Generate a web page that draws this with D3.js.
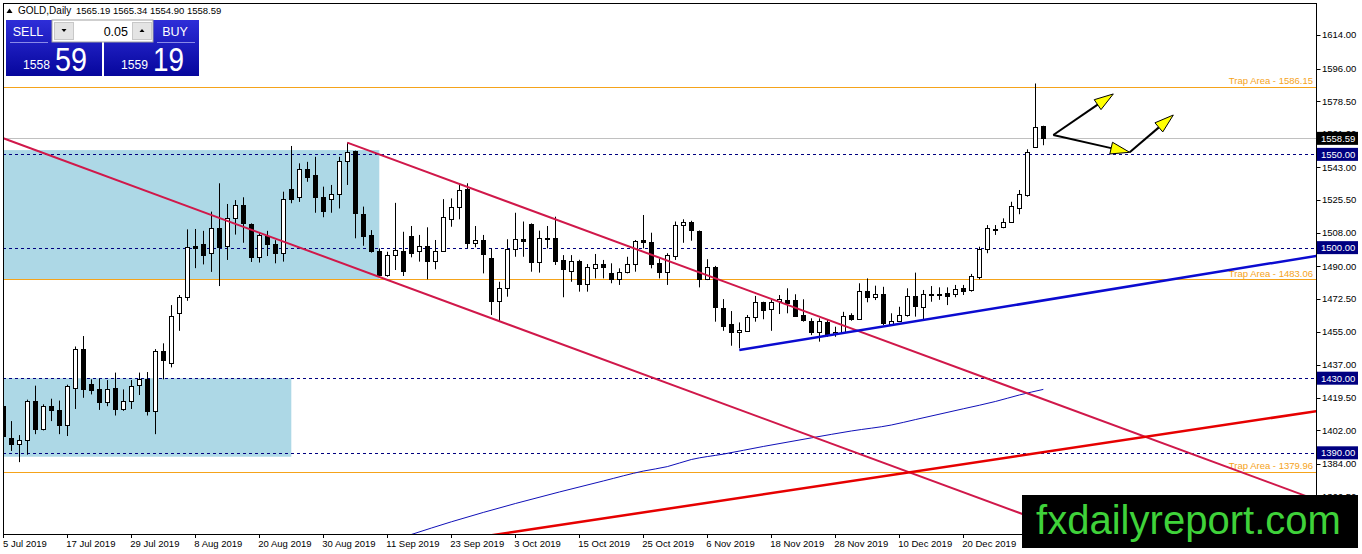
<!DOCTYPE html>
<html>
<head>
<meta charset="utf-8">
<script src="https://cdn.jsdelivr.net/npm/d3@7"></script>
<style>
  body { margin: 0; background: #fff; overflow: hidden; }
  svg { display: block; }
  text { font-family: "Liberation Sans", Arial, sans-serif; }
</style>
</head>
<body>
<div class="canva"></div>
<script>
// Daily GOLD candles, 5 Jul 2019 .. 7 Jan 2020 (one entry per bar)
const opens = [1415,1398,1394.5,1397,1418,1403,1415,1413,1405,1425,1445.5,1427,1424,1417,1425,1413.6,1418,1426.2,1429.7,1412.2,
  1444.4,1438.3,1464.8,1473.7,1501,1502,1497,1510.4,1501,1515.7,1522.7,1512.7,1495.1,1506,1501.8,1497.3,1531.4,1527,1542,1539,
  1527,1526,1528.7,1546.6,1551.8,1518,1506.8,1498.2,1485.3,1496,1498.2,1506.2,1498.2,1500.9,1493,1498.4,1515.2,1521.6,1531.4,1502.6,
  1504.1,1494.2,1471.5,1478.5,1499.1,1504.5,1512.7,1492.5,1505,1505,1493.4,1487.3,1493,1480.3,1489.2,1491,1486.2,1483.2,1487.1,1491,
  1503.9,1503,1491.6,1487.1,1495.7,1512.1,1513.6,1508.9,1483.2,1489.8,1467.5,1459,1454.6,1455.3,1462.6,1470.8,1467.1,1471.5,1471.9,1471.9,
  1463.7,1460.6,1454.6,1460.3,1453.7,1454.9,1463.9,1461.6,1476.7,1473.7,1475,1458.9,1460.8,1463.7,1473.9,1468,1475,1475.3,1475.5,1475,
  1478.3,1477.4,1484.4,1499.3,1509.8,1510.9,1513.9,1521.1,1528.2,1554.1,1565.19];
const highs = [1424,1407,1399.5,1418.5,1426,1416,1419,1418,1426.5,1447,1452.6,1429.4,1429.7,1429,1433,1424,1429,1433,1433.3,1445.6,
  1448.7,1469.2,1474.6,1509.8,1510,1509,1519.3,1534.5,1523.4,1525.5,1527,1513,1508.2,1509,1504,1530,1554.5,1545.2,1546,1548.7,
  1532.7,1533.6,1548.7,1556.3,1552,1522,1509.4,1499.6,1497.8,1524,1508.5,1511.6,1506.8,1510.9,1504.1,1526,1526.4,1534.5,1534.5,1511.6,
  1506.8,1499.6,1481.7,1504.5,1518.7,1514,1513,1509.1,1511.6,1516.6,1496,1496,1493.5,1491.2,1496.6,1493.4,1491.6,1488.9,1495.1,1504.1,
  1517.5,1508,1494.2,1497,1514,1515.2,1514.4,1509.2,1493.8,1490.2,1472.4,1466,1459.9,1463.9,1474.1,1471,1471.9,1474.6,1478.2,1475,
  1472.3,1462.1,1462.1,1461.2,1457.6,1465.6,1464.8,1480.9,1483.5,1479.6,1479,1464.8,1468.3,1478.2,1486.6,1477.3,1479.4,1478.7,1478.7,1480,
  1480,1485.9,1500.5,1512.1,1512.1,1515.7,1524.6,1530.9,1552.7,1588,1565.34];
const lows = [1386,1391,1385,1389,1400,1402,1407,1400,1399,1413.5,1419.5,1421.3,1413,1415,1410,1412.5,1413.5,1421,1410,1400,
  1429.4,1435.8,1455.4,1471.5,1489,1491,1487,1479.4,1493.4,1507,1502.6,1492.3,1492,1495.5,1491.6,1492.5,1523.8,1524.5,1535.3,1518.7,
  1516.3,1518.7,1521,1533.6,1505,1501,1497.3,1484.4,1484.4,1488,1484.8,1494.8,1492.5,1483,1488.4,1497.8,1511.2,1515.2,1499.6,1500.2,
  1486.2,1463.9,1460.3,1473.7,1495.1,1495.1,1487.1,1486.6,1499.6,1490.7,1473.4,1481.7,1476.4,1476.4,1483.5,1483.5,1480.9,1480,1486.2,1487.1,
  1499.6,1488.9,1483.5,1480,1493.4,1502.6,1503.7,1478.7,1482.6,1460.3,1455.4,1447.4,1446,1454.9,1460.3,1461.6,1455.4,1464.4,1464.8,1463,
  1460.3,1453.1,1449.6,1452.2,1452.2,1454,1460.8,1461.2,1470.7,1471.9,1458.5,1458.5,1460.3,1463,1463,1461.6,1471,1472,1469.2,1473.4,
  1474.6,1476.4,1483,1497,1506.8,1510.4,1513.9,1517.9,1527.3,1554,1554.90];
const closes = [1399,1394.5,1396.8,1418,1403,1415,1413,1405,1426,1445.5,1424.3,1423.7,1417,1424.3,1413.6,1417.8,1426,1429.7,1412.2,1444.4,
  1440,1463.2,1473.7,1500.5,1500,1496,1510.4,1500.5,1515.7,1522.7,1513,1495.1,1506.6,1502,1497.3,1525.9,1526.2,1542,1538,1527,
  1519.8,1528.6,1546.6,1551.4,1518.4,1506,1498.2,1485.3,1496,1498.7,1487.6,1497.3,1500.9,1493,1498.2,1516.3,1521.6,1530.9,1502.6,1504.1,
  1496.4,1471.5,1478.5,1499.3,1504.5,1503.7,1492.5,1505,1505.3,1493,1488.4,1493,1480.3,1489.4,1491,1489.8,1483.2,1486.8,1491,1503.5,
  1503.2,1491.2,1487.1,1495.9,1512.1,1513.6,1509.3,1483.2,1489.8,1468,1458.1,1454.9,1455.8,1462.6,1470.7,1466.5,1470.7,1472.3,1470.5,1463.5,
  1461.2,1454.6,1460.6,1453.1,1454.9,1463.3,1461.6,1476.7,1473.7,1475,1459.4,1460.8,1463.7,1473.9,1468.7,1475,1475.4,1475,1474.2,1478,
  1476.9,1484.6,1499.4,1510.5,1510.2,1513.9,1522.3,1528.6,1551.4,1564.8,1558.59];

// time axis labels (bar index -> label)
const tickBars = [0,8,16,24,32,40,48,56,64,72,80,88,96,104,112,120];
const tickLabels = ["5 Jul 2019","17 Jul 2019","29 Jul 2019","8 Aug 2019","20 Aug 2019","30 Aug 2019","11 Sep 2019","23 Sep 2019",
  "3 Oct 2019","15 Oct 2019","25 Oct 2019","6 Nov 2019","18 Nov 2019","28 Nov 2019","10 Dec 2019","20 Dec 2019"];

// price scale labels
const priceTicks = [1614,1596,1578.5,1561,1543,1525.5,1508,1490,1472.5,1455,1437,1419.5,1402,1384,1366.5];

// horizontal levels
const dashedLevels = [1550,1500,1430,1390];
const trapLevels = [1586.15,1483.06,1379.96];
const trapNames = ["Trap Area  - 1586.15","Trap Area - 1483.06","Trap Area - 1379.96"];
const bidPrice = 1558.59;

// moving average readings (bar, value)
const maBars = [50,51,56,64,75,80,83,86,90,95,101,106,111,114,120,124,127,130];
const maValues = [1344.8,1346.2,1353.0,1362.8,1374.9,1380.2,1382.6,1386.4,1389.3,1393.4,1398.0,1401.7,1404.9,1407.8,1413.6,1417.5,1421.0,1424.0];

// drawn objects, anchors as [bar, price]
const channelUpper = [[43,1556.3],[165,1363.4]];
const channelLower = [[-1,1560.2],[165,1297.7]];
const blueTrend = [[92,1445.1],[165,1496.2]];
const redTrend = [[55,1341.9],[165,1412.9]];
const boxUpper = [[-2,1552.3],[47,1483.06]];
const boxLower = [[-2,1430],[36,1387.9]];
const arrowStart = [131.25,1560.4];
const arrowMid = [140.8,1551.1];
const arrowTips = [[138.75,1582.4],[140.8,1551.1],[146.25,1571.1]];

const W = 1362, H = 554;
const plot = {left: 3, top: 3, right: 1316, bottom: 534};

const svg = d3.select('.canva').append('svg')
  .attr('width', W).attr('height', H);

const xs = d3.scaleLinear().domain([0, 164]).range([3.3, 3.3 + 164 * 8]);
const ys = d3.scaleLinear().domain([1384, 1614]).range([464, 35]);

svg.append('defs').append('clipPath').attr('id', 'plotclip')
  .append('rect').attr('x', plot.left).attr('y', plot.top)
  .attr('width', plot.right - plot.left).attr('height', plot.bottom - plot.top);

const g = svg.append('g').attr('clip-path', 'url(#plotclip)');

// background rectangles
[boxUpper, boxLower].forEach(b => {
  g.append('rect')
    .attr('x', xs(b[0][0])).attr('y', ys(b[0][1]))
    .attr('width', xs(b[1][0]) - xs(b[0][0]))
    .attr('height', ys(b[1][1]) - ys(b[0][1]))
    .attr('fill', '#add8e6');
});

// level lines
const crisp = v => Math.round(v) + 0.5;
g.selectAll('.dash').data(dashedLevels).enter().append('line')
  .attr('x1', plot.left).attr('x2', plot.right)
  .attr('y1', d => crisp(ys(d))).attr('y2', d => crisp(ys(d)))
  .attr('stroke', '#000080').attr('stroke-dasharray', '3,3');

g.selectAll('.trap').data(trapLevels).enter().append('line')
  .attr('x1', plot.left).attr('x2', plot.right)
  .attr('y1', d => crisp(ys(d))).attr('y2', d => crisp(ys(d)))
  .attr('stroke', '#f5a31a');

g.append('line')
  .attr('x1', plot.left).attr('x2', plot.right)
  .attr('y1', crisp(ys(bidPrice))).attr('y2', crisp(ys(bidPrice)))
  .attr('stroke', '#c0c0c0');

// trap labels
g.selectAll('.trapLbl').data(trapLevels).enter().append('text')
  .attr('x', 1313).attr('y', d => ys(d) - 2.5)
  .attr('text-anchor', 'end')
  .attr('font-size', '9.5px')
  .attr('fill', '#f5a31a')
  .text((d, i) => trapNames[i]);

// moving average
const maLine = d3.line().x(d => xs(d[0])).y(d => ys(d[1])).curve(d3.curveMonotoneX);
g.append('path')
  .attr('d', maLine(maBars.map((b, i) => [b, maValues[i]])))
  .attr('fill', 'none').attr('stroke', '#1010b8').attr('stroke-width', 1);

// candles
const candles = g.append('g');
opens.forEach((o, i) => {
  const cx = Math.round(xs(i)) + 0.5;
  const c = closes[i];
  const up = c >= o;
  candles.append('line')
    .attr('x1', cx).attr('x2', cx)
    .attr('y1', ys(highs[i])).attr('y2', ys(lows[i]))
    .attr('stroke', '#000');
  const top = Math.round(ys(Math.max(o, c))) + 0.5;
  const bot = Math.max(top + 1, Math.round(ys(Math.min(o, c))) + 0.5);
  candles.append('rect')
    .attr('x', cx - 2).attr('y', top)
    .attr('width', 4).attr('height', bot - top)
    .attr('fill', up ? '#fff' : '#000')
    .attr('stroke', '#000');
});

// trend lines
function seg(pts, color, w) {
  g.append('line')
    .attr('x1', xs(pts[0][0])).attr('y1', ys(pts[0][1]))
    .attr('x2', xs(pts[1][0])).attr('y2', ys(pts[1][1]))
    .attr('stroke', color).attr('stroke-width', w);
}
seg(channelLower, '#d0184a', 2);
seg(channelUpper, '#d0184a', 2);
seg(blueTrend, '#0b0bd0', 2.5);
seg(redTrend, '#e60000', 2.5);

// arrows
function arrow(from, to) {
  const x1 = xs(from[0]), y1 = ys(from[1]), x2 = xs(to[0]), y2 = ys(to[1]);
  const a = Math.atan2(y2 - y1, x2 - x1);
  const len = 19, hw = 6;
  const bx = x2 - len * Math.cos(a), by = y2 - len * Math.sin(a);
  g.append('line').attr('x1', x1).attr('y1', y1).attr('x2', bx).attr('y2', by)
    .attr('stroke', '#000').attr('stroke-width', 2);
  const pts = [[x2, y2],
    [bx + hw * Math.sin(a), by - hw * Math.cos(a)],
    [bx - hw * Math.sin(a), by + hw * Math.cos(a)]];
  g.append('polygon').attr('points', pts.map(p => p.join(',')).join(' '))
    .attr('fill', '#ffff00').attr('stroke', '#000').attr('stroke-width', 1);
}
arrow(arrowStart, arrowTips[0]);
arrow(arrowStart, arrowTips[1]);
arrow(arrowMid, arrowTips[2]);

// frame
svg.append('rect')
  .attr('x', plot.left + 0.5).attr('y', plot.top + 0.5)
  .attr('width', plot.right - plot.left).attr('height', plot.bottom - plot.top)
  .attr('fill', 'none').attr('stroke', '#000');

// price axis
const ax = svg.append('g');
ax.selectAll('.tk').data(priceTicks).enter().append('line')
  .attr('x1', plot.right + 0.5).attr('x2', plot.right + 4.5)
  .attr('y1', d => crisp(ys(d))).attr('y2', d => crisp(ys(d)))
  .attr('stroke', '#000');
ax.selectAll('.tl').data(priceTicks).enter().append('text')
  .attr('x', 1322).attr('y', d => ys(d)).attr('dy', '0.35em')
  .attr('font-size', '9.5px').attr('fill', '#000')
  .text(d => d.toFixed(2));

function axisBox(v, fill) {
  ax.append('rect').attr('x', 1317).attr('y', ys(v) - 6.5)
    .attr('width', 41).attr('height', 13).attr('fill', fill);
  ax.append('text').attr('x', 1321).attr('y', ys(v)).attr('dy', '0.35em')
    .attr('font-size', '9.5px').attr('fill', '#fff').text(v.toFixed(2));
}
dashedLevels.forEach(v => axisBox(v, '#000080'));
axisBox(bidPrice, '#000');

// time axis
ax.selectAll('.xt').data(tickBars).enter().append('line')
  .attr('x1', d => crisp(xs(d))).attr('x2', d => crisp(xs(d)))
  .attr('y1', plot.bottom).attr('y2', plot.bottom + 4)
  .attr('stroke', '#000');
ax.selectAll('.xl').data(tickBars).enter().append('text')
  .attr('x', d => Math.max(3, xs(d) - 1)).attr('y', 547)
  .attr('font-size', '9.5px').attr('fill', '#000')
  .text((d, i) => tickLabels[i]);

// header
svg.append('path').attr('d', 'M6.5,13 L12.5,13 L9.5,8.5 Z').attr('fill', '#000');
svg.append('text').attr('x', 18).attr('y', 14).attr('font-size', '10px').text('GOLD,Daily');
svg.append('text').attr('x', 76).attr('y', 14).attr('font-size', '9.5px')
  .text(`${opens[130].toFixed(2)} ${highs[130].toFixed(2)} ${lows[130].toFixed(2)} ${closes[130].toFixed(2)}`);

// one-click trading panel
const grad = svg.select('defs').append('linearGradient').attr('id', 'btn')
  .attr('x1', 0).attr('y1', 0).attr('x2', 0).attr('y2', 1);
grad.append('stop').attr('offset', 0).attr('stop-color', '#2e2ed8');
grad.append('stop').attr('offset', 1).attr('stop-color', '#06069c');

const panel = svg.append('g');
panel.append('rect').attr('x', 6).attr('y', 20).attr('width', 96).attr('height', 56).attr('fill', 'url(#btn)');
panel.append('rect').attr('x', 104).attr('y', 20).attr('width', 95).attr('height', 56).attr('fill', 'url(#btn)');
panel.append('rect').attr('x', 52).attr('y', 20).attr('width', 101).attr('height', 22).attr('fill', '#fff')
  .attr('stroke', '#a0a0a0').attr('stroke-width', 1);
panel.append('rect').attr('x', 54.5).attr('y', 22.5).attr('width', 19).attr('height', 17).attr('fill', '#e4e4e4')
  .attr('stroke', '#c8c8c8');
panel.append('rect').attr('x', 132.5).attr('y', 22.5).attr('width', 19).attr('height', 17).attr('fill', '#e4e4e4')
  .attr('stroke', '#c8c8c8');
panel.append('path').attr('d', 'M61.5,29 L66.5,29 L64,32 Z').attr('fill', '#000');
panel.append('path').attr('d', 'M139.5,32 L144.5,32 L142,29 Z').attr('fill', '#000');
panel.append('text').attr('x', 128).attr('y', 35.5).attr('text-anchor', 'end')
  .attr('font-size', '12.5px').attr('fill', '#000').text('0.05');
panel.append('text').attr('x', 28).attr('y', 36).attr('text-anchor', 'middle')
  .attr('font-size', '12.5px').attr('fill', '#fff').text('SELL');
panel.append('text').attr('x', 175).attr('y', 36).attr('text-anchor', 'middle')
  .attr('font-size', '12.5px').attr('fill', '#fff').text('BUY');
panel.append('line').attr('x1', 10).attr('x2', 48).attr('y1', 42.5).attr('y2', 42.5).attr('stroke', '#8a8ae8');
panel.append('line').attr('x1', 157).attr('x2', 195).attr('y1', 42.5).attr('y2', 42.5).attr('stroke', '#8a8ae8');
panel.append('text').attr('x', 23).attr('y', 69).attr('font-size', '12.5px').attr('fill', '#fff')
  .attr('textLength', 27).attr('lengthAdjust', 'spacingAndGlyphs').text('1558');
panel.append('text').attr('x', 55).attr('y', 71).attr('font-size', '33px').attr('fill', '#fff')
  .attr('textLength', 32).attr('lengthAdjust', 'spacingAndGlyphs').text('59');
panel.append('text').attr('x', 121).attr('y', 69).attr('font-size', '12.5px').attr('fill', '#fff')
  .attr('textLength', 27).attr('lengthAdjust', 'spacingAndGlyphs').text('1559');
panel.append('text').attr('x', 153).attr('y', 71).attr('font-size', '33px').attr('fill', '#fff')
  .attr('textLength', 31).attr('lengthAdjust', 'spacingAndGlyphs').text('19');

// watermark
svg.append('rect').attr('x', 1022).attr('y', 495).attr('width', 336).attr('height', 53).attr('fill', '#000');
svg.append('text').attr('x', 1036).attr('y', 534).attr('font-size', '40px').attr('fill', '#3fd23a')
  .attr('textLength', 305).attr('lengthAdjust', 'spacingAndGlyphs').text('fxdailyreport.com');
</script>
</body>
</html>
